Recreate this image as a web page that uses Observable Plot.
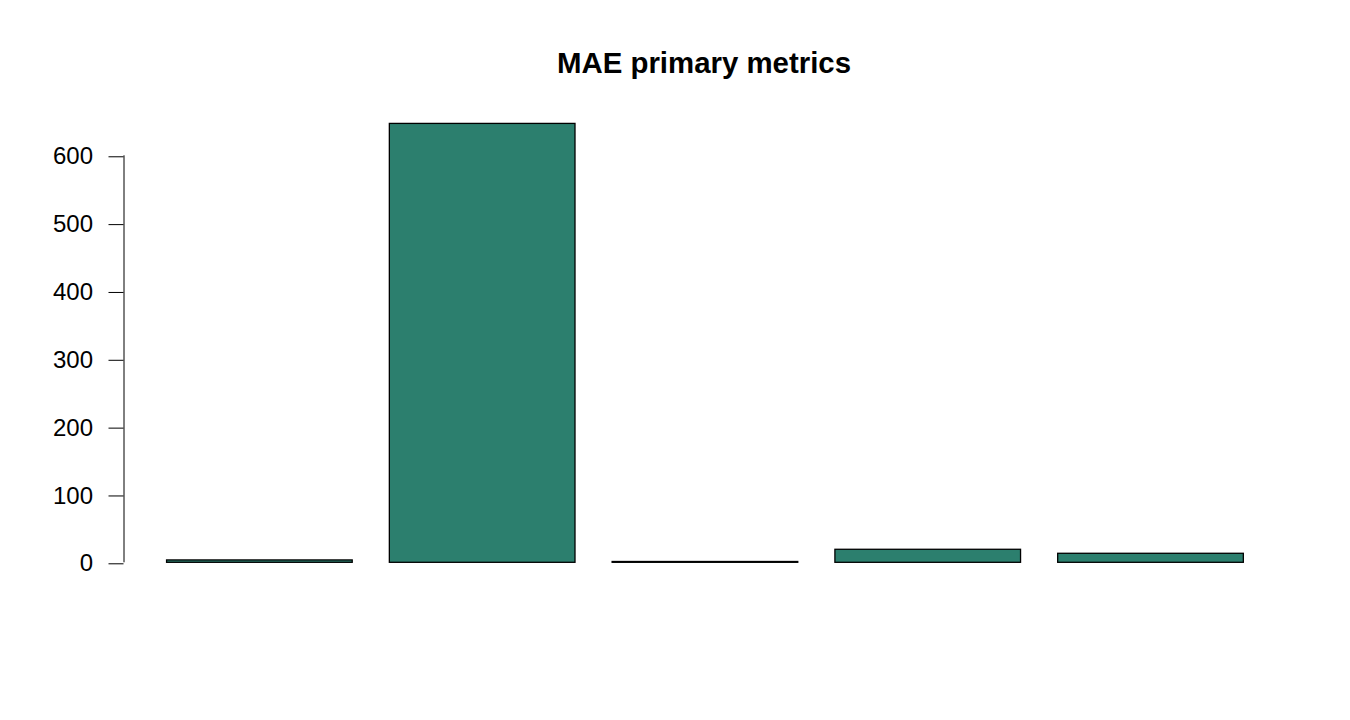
<!DOCTYPE html>
<html>
<head>
<meta charset="utf-8">
<script src="https://cdn.jsdelivr.net/npm/d3@7"></script>
<script src="https://cdn.jsdelivr.net/npm/@observablehq/plot@0.6"></script>
<style>
  html, body { margin: 0; padding: 0; background: #ffffff; }
  #wrap { position: relative; width: 1350px; height: 720px; }
  #title {
    position: absolute; left: 704px; top: 48.4px; transform: translateX(-50%);
    font-family: "Liberation Sans", Arial, sans-serif; font-weight: bold;
    font-size: 29.4px; line-height: 29.4px; white-space: nowrap; color: #000;
  }
  #chart { position: absolute; left: 0; top: 0; }
</style>
</head>
<body>
<div id="wrap">
  <div id="chart"></div>
  <div id="title">MAE primary metrics</div>
</div>
<script>
// Data
const categories = ["Metric 1", "Metric 2", "Metric 3", "Metric 4", "Metric 5"];
const values = [3.5, 647, 1.2, 19.2, 13.3];
const yTicks = [0, 100, 200, 300, 400, 500, 600];

// R barplot layout parameters (space between bars, bar width)
const space = 0.2, barWidth = 1;
const data = categories.map((c, i) => ({
  category: c,
  value: values[i],
  x1: space + i * (barWidth + space),
  x2: space + i * (barWidth + space) + barWidth
}));

const xmin = d3.min(data, d => d.x1), xmax = d3.max(data, d => d.x2);
const xext = 0.04 * (xmax - xmin);
const ymax = d3.max(values), ymin = 0;
const yext = 0.04 * (ymax - ymin);

const chart = Plot.plot({
  width: 1350,
  height: 720,
  marginLeft: 123.5,
  marginRight: 63.6,
  marginTop: 105.85,
  marginBottom: 140.14,
  style: { fontFamily: "'Liberation Sans', Arial, sans-serif", fontSize: "24px", background: "#ffffff", color: "#000" },
  x: { domain: [xmin - xext, xmax + xext], axis: null },
  y: { domain: [ymin - yext, ymax + yext], axis: null },
  marks: [
    Plot.rectY(data, { x1: "x1", x2: "x2", y1: 0, y2: "value", fill: "#2C7F6E", stroke: "#000", strokeWidth: 1.3 }),
    Plot.ruleX([xmin - xext], { y1: yTicks[0], y2: yTicks[yTicks.length - 1], stroke: "#000", strokeWidth: 1 }),
    Plot.axisY({ ticks: yTicks, tickSize: 15, tickPadding: 16, fontSize: 24, dy: 1, tickFormat: d => String(d), stroke: "#000", strokeWidth: 1, strokeOpacity: 1, label: null })
  ]
});
document.getElementById("chart").appendChild(chart);
</script>
</body>
</html>
